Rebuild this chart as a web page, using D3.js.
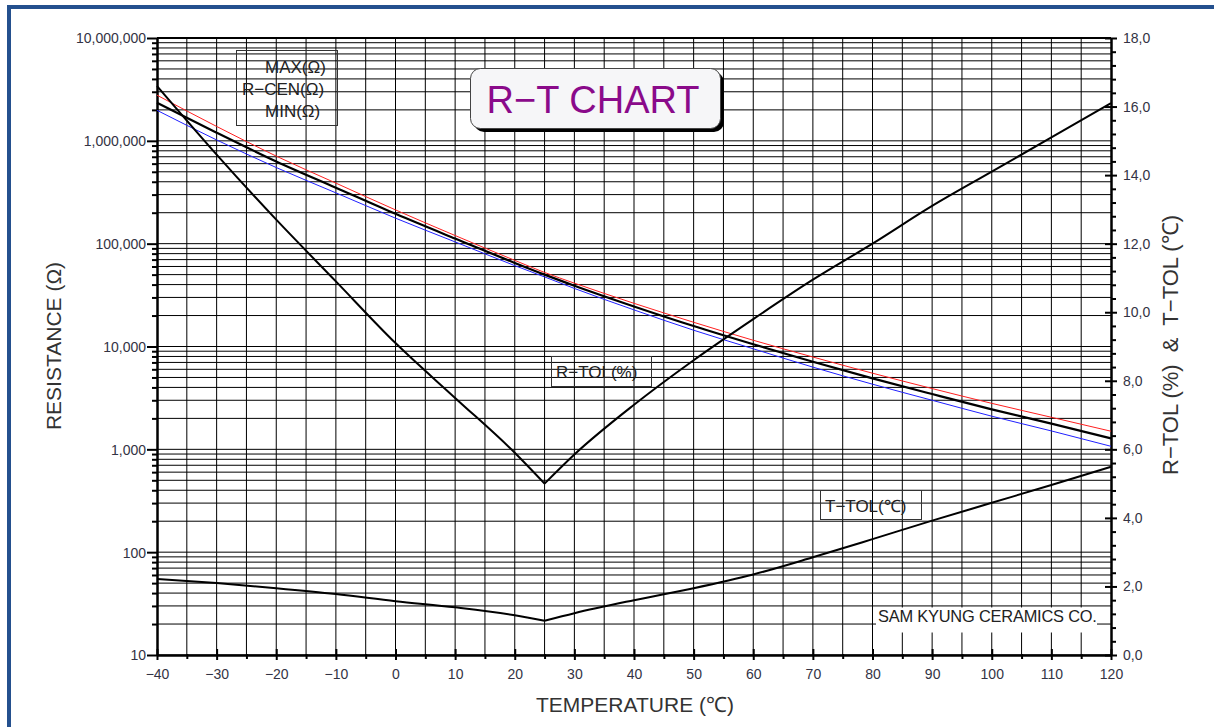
<!DOCTYPE html>
<html>
<head>
<meta charset="utf-8">
<script src="https://cdn.jsdelivr.net/npm/d3@7"></script>
<style>
  html, body { margin: 0; padding: 0; background: #fff; }
  svg { display: block; }
  text { font-family: "Liberation Sans", Arial, sans-serif; }
</style>
</head>
<body>
<svg id="chart" width="1214" height="727"></svg>
<script>
// Temperature points (°C)
const temps = [-40, -30, -20, -10, 0, 10, 20, 25, 30, 40, 50, 60, 70, 80, 90, 100, 110, 120];
// Resistance (Ω): upper limit, centre, lower limit
const rMax = [2.78e6, 1.38e6, 7.1e5, 3.88e5, 2.13e5, 1.2e5, 6.88e4, 5.25e4, 4.13e4, 2.63e4, 1.72e4, 1.15e4, 7.9e3, 5.5e3, 3.9e3, 2.8e3, 2.05e3, 1.5e3];
const rCen = [2.35e6, 1.2e6, 6.3e5, 3.5e5, 1.95e5, 1.12e5, 6.5e4, 5.0e4, 3.9e4, 2.45e4, 1.58e4, 1.05e4, 7.1e3, 4.9e3, 3.45e3, 2.45e3, 1.78e3, 1.28e3];
const rMin = [1.98e6, 1.02e6, 5.5e5, 3.12e5, 1.77e5, 1.04e5, 6.12e4, 4.75e4, 3.67e4, 2.27e4, 1.44e4, 9.5e3, 6.3e3, 4.3e3, 3.0e3, 2.1e3, 1.51e3, 1.07e3];
// Resistance tolerance (%) and temperature tolerance (°C)
const rTol = [16.6, 14.6, 12.7, 10.9, 9.1, 7.5, 5.9, 5.0, 5.85, 7.3, 8.6, 9.8, 10.95, 12.0, 13.1, 14.1, 15.1, 16.1];
const tTol = [2.22, 2.1, 1.95, 1.78, 1.57, 1.39, 1.16, 1.0, 1.22, 1.6, 1.95, 2.35, 2.85, 3.38, 3.92, 4.44, 4.96, 5.49];

// Tick values
const xMajorTicks = d3.range(-40, 121, 10);
const xMinorTicks = d3.range(-35, 120, 10);
const yMajorTicks = [10, 100, 1000, 10000, 100000, 1000000, 10000000];
const yRightMajor = [0, 2, 4, 6, 8, 10, 12, 14, 16, 18];

const svg = d3.select("#chart");
const P = { left: 157, right: 1111, top: 38, bottom: 655 };

const x = d3.scaleLinear().domain([-40, 120]).range([P.left, P.right]);
const y = d3.scaleLog().domain([10, 1e7]).range([P.bottom, P.top]);
const yR = d3.scaleLinear().domain([0, 18]).range([P.bottom, P.top]);

// log minor values 1..9 per decade
const yAllTicks = [];
for (let k = 1; k <= 6; k++) for (let d = 1; d <= 9; d++) yAllTicks.push(d * Math.pow(10, k));
yAllTicks.push(1e7);
const yMinorTicks = yAllTicks.filter(v => !yMajorTicks.includes(v));
const yRightMinor = d3.range(0, 18.001, 0.4).map(v => +v.toFixed(1)).filter(v => Math.abs(v / 2 - Math.round(v / 2)) > 1e-6);

// page frame
svg.append("rect").attr("x", 7).attr("y", 5).attr("width", 1214).attr("height", 4).attr("fill", "#24508e");
svg.append("rect").attr("x", 7).attr("y", 5).attr("width", 4).attr("height", 727).attr("fill", "#24508e");

// grid
const grid = svg.append("g").attr("stroke", "#000").attr("stroke-width", 1);
grid.selectAll("line.v").data(d3.range(-35, 120, 5)).join("line")
  .attr("x1", d => x(d)).attr("x2", d => x(d)).attr("y1", P.top).attr("y2", P.bottom);
grid.selectAll("line.h").data(yAllTicks).join("line")
  .attr("x1", P.left).attr("x2", P.right).attr("y1", d => y(d)).attr("y2", d => y(d));

// company label sits on a white patch over the grid
svg.append("rect").attr("x", 876).attr("y", 607.5).attr("width", 221).attr("height", 25).attr("fill", "#fff");
svg.append("text").attr("x", 878).attr("y", 622).attr("font-size", 16.4).attr("letter-spacing", -0.2)
  .attr("fill", "#222").text("SAM KYUNG CERAMICS CO.");

// top border of plot
svg.append("line").attr("x1", P.left).attr("x2", P.right).attr("y1", P.top).attr("y2", P.top)
  .attr("stroke", "#000").attr("stroke-width", 2);

// axes
const tickStyle = g => {
  g.selectAll("text").attr("font-size", 14).attr("fill", "#333344").attr("font-family", "\"Liberation Sans\", Arial, sans-serif");
  g.selectAll("line").attr("stroke", "#000").attr("stroke-width", 2);
  g.select(".domain").attr("stroke", "#000").attr("stroke-width", 2);
};

// left
svg.append("g").attr("transform", `translate(${P.left},0)`)
  .call(d3.axisLeft(y).tickValues(yMinorTicks).tickSize(5).tickFormat("").tickSizeOuter(0))
  .call(tickStyle);
svg.append("g").attr("transform", `translate(${P.left},0)`)
  .call(d3.axisLeft(y).tickValues(yMajorTicks).tickSize(10).tickPadding(1).tickFormat(d3.format(",")).tickSizeOuter(0))
  .call(tickStyle)
  .call(g => g.selectAll("text").attr("dy", "0.35em"));

// bottom
svg.append("g").attr("transform", `translate(0,${P.bottom})`)
  .call(d3.axisBottom(x).tickValues(xMinorTicks).tickSize(4).tickFormat("").tickSizeOuter(0))
  .call(tickStyle)
  .call(g => g.selectAll(".tick line").attr("y1", -1));
svg.append("g").attr("transform", `translate(0,${P.bottom})`)
  .call(d3.axisBottom(x).tickValues(xMajorTicks).tickSize(5).tickPadding(9).tickFormat(d3.format("d")).tickSizeOuter(0))
  .call(tickStyle)
  .call(g => g.selectAll(".tick line").attr("y1", -6));

// right
svg.append("g").attr("transform", `translate(${P.right},0)`)
  .call(d3.axisRight(yR).tickValues(yRightMinor).tickSize(5).tickFormat("").tickSizeOuter(0))
  .call(tickStyle);
svg.append("g").attr("transform", `translate(${P.right},0)`)
  .call(d3.axisRight(yR).tickValues(yRightMajor).tickSize(6).tickPadding(6).tickFormat(d => d.toFixed(1).replace(".", ",")).tickSizeOuter(0))
  .call(tickStyle)
  .call(g => g.selectAll(".tick line").attr("x1", -6));

// resistance curves
const rLine = d3.line().x((d, i) => x(temps[i])).y(d => y(d)).curve(d3.curveMonotoneX);
svg.append("path").attr("d", rLine(rMax)).attr("fill", "none").attr("stroke", "#ff2020").attr("stroke-width", 1);
svg.append("path").attr("d", rLine(rMin)).attr("fill", "none").attr("stroke", "#2020ff").attr("stroke-width", 1);
svg.append("path").attr("d", rLine(rCen)).attr("fill", "none").attr("stroke", "#000").attr("stroke-width", 2.2);

// tolerance curves (right axis): each side of the 25 °C minimum drawn as its own smooth branch
const iMin = temps.indexOf(25);
const tolLine = d3.line().x(d => x(d[0])).y(d => yR(d[1])).curve(d3.curveMonotoneX);
[rTol, tTol].forEach(series => {
  const pts = temps.map((t, i) => [t, series[i]]);
  [pts.slice(0, iMin + 1), pts.slice(iMin)].forEach(branch => {
    svg.append("path").attr("d", tolLine(branch)).attr("fill", "none").attr("stroke", "#000").attr("stroke-width", 2);
  });
});

// legend
const lg = svg.append("g").attr("fill", "#222").attr("font-size", 17);
lg.append("rect").attr("x", 236.5).attr("y", 50.5).attr("width", 101).attr("height", 75).attr("fill", "none").attr("stroke", "#333").attr("stroke-width", 1);
lg.append("text").attr("x", 265).attr("y", 73).text("MAX(Ω)");
lg.append("text").attr("x", 242).attr("y", 95).text("R−CEN(Ω)");
lg.append("text").attr("x", 265).attr("y", 117).text("MIN(Ω)");

// curve labels
const cl = svg.append("g").attr("fill", "#222").attr("font-size", 17);
cl.append("rect").attr("x", 551.5).attr("y", 356.5).attr("width", 100).attr("height", 30).attr("fill", "none").attr("stroke", "#333");
cl.append("text").attr("x", 556).attr("y", 378).text("R−TOL(%)");
cl.append("rect").attr("x", 820.5).attr("y", 490.5).attr("width", 101).attr("height", 29).attr("fill", "none").attr("stroke", "#333");
cl.append("text").attr("x", 825).attr("y", 512).text("T−TOL(℃)");

// title badge
svg.append("rect").attr("x", 474).attr("y", 72).attr("width", 250).attr("height", 60).attr("rx", 10).attr("fill", "#000");
svg.append("rect").attr("x", 470.5).attr("y", 68.5).attr("width", 250).attr("height", 60).attr("rx", 10)
  .attr("fill", "#f6f6f8").attr("stroke", "#444").attr("stroke-width", 1);
svg.append("text").attr("x", 593).attr("y", 113).attr("text-anchor", "middle").attr("font-size", 38)
  .attr("fill", "#8a0a8a").text("R−T CHART");

// axis titles
svg.append("text").attr("transform", "translate(61,346) rotate(-90)").attr("text-anchor", "middle")
  .attr("font-size", 21).attr("fill", "#333").text("RESISTANCE (Ω)");
svg.append("text").attr("x", 635).attr("y", 712).attr("text-anchor", "middle")
  .attr("font-size", 21).attr("fill", "#333").text("TEMPERATURE (℃)");
svg.append("text").attr("transform", "translate(1178,345) rotate(-90)").attr("text-anchor", "middle")
  .attr("font-size", 22).attr("fill", "#333").attr("xml:space", "preserve").text("R−TOL (%)  &  T−TOL (℃)");
</script>
</body>
</html>
